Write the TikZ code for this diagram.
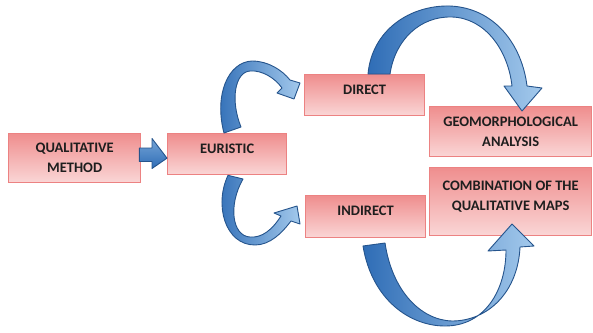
\documentclass[tikz,border=0pt]{standalone}
\usepackage{fontspec}
\setmainfont{Carlito}
\definecolor{boxtop}{HTML}{EF8E8E}
\definecolor{boxbot}{HTML}{FAD6D6}
\definecolor{boxline}{HTML}{EC8282}
\definecolor{arrdark}{HTML}{2F6DB6}
\definecolor{arrlight}{HTML}{A3C9EC}
\definecolor{arrline}{HTML}{25548C}
\definecolor{txt}{HTML}{1E1E1E}
\begin{document}
\begin{tikzpicture}[x=1pt,y=-1pt,
  box/.style={draw=boxline, line width=1.3pt, top color=boxtop, bottom color=boxbot,
    rectangle, anchor=north west, inner sep=0pt, text=txt,
    font=\fontsize{14.5}{20}\selectfont\bfseries, align=center},
  onel/.style={text height=10.2pt, text depth=12pt},
  arrbase/.style={draw=arrline, line width=0.9pt, line join=round},
  blarrow/.style={arrbase, left color=arrdark, right color=arrlight},
  strarrow/.style={arrbase, top color=arrlight!60!arrdark, bottom color=arrdark}
  ]
\useasboundingbox (0,0) rectangle (593,332);
% boxes
\node[box, minimum width=132pt, minimum height=49pt] (qm) at (8,133) {QUALITATIVE\\METHOD};
\node[box, onel, minimum width=119pt, minimum height=41pt] (eur) at (167,133) {EURISTIC};
\node[box, onel, minimum width=120pt, minimum height=41pt] (dir) at (304,74) {DIRECT};
\node[box, onel, text depth=13pt, minimum width=120pt, minimum height=42pt] (ind) at (305,195) {INDIRECT};
\node[box, minimum width=162pt, minimum height=50pt] (geo) at (429,106) {GEOMORPHOLOGICAL\\ANALYSIS};
\node[box, minimum width=162pt, minimum height=68pt] (comb) at (429,167) {COMBINATION OF THE\\QUALITATIVE MAPS\\[-8pt]\mbox{}};
% anchor coordinates for connectors
\coordinate (qmR) at ([yshift=-1pt]qm.east);
\coordinate (eurL) at ([yshift=-4pt]eur.west);
% straight block arrow qm -> eur
\path[strarrow]
  ([xshift=-2pt]qmR |- 0,148) -- (152,148) -- (152,138.5) -- (eurL) -- (152,168.5) -- (152,161.5) -- ([xshift=-2pt]qmR |- 0,161.5) -- cycle;
% euristic -> direct
\path[blarrow] (eur.north -| 224,0) .. controls (214,95) and (228,62) .. (252,61)
  .. controls (268,61) and (282,70) .. (290,80) -- (300,83) -- (294,99) -- (277,93) -- (282,88)
  .. controls (275,78) and (262,70) .. (250,71)
  .. controls (235,72) and (230,100) .. (241,127) -- cycle;
% direct -> geomorphological
\path[blarrow] (dir.north -| 368,0) .. controls (372,30) and (410,5) .. (450,6)
  .. controls (495,8) and (522,45) .. (527,86) -- (542,88) -- (522,111) -- (504,86) -- (512,86)
  .. controls (508,50) and (485,18) .. (452,17)
  .. controls (420,16) and (395,40) .. (390,74) -- cycle;
% euristic -> indirect
\path[blarrow] (eur.south -| 228,0) .. controls (214,205) and (225,245) .. (255,245)
  .. controls (270,245) and (282,233) .. (291,221) -- (300,224) -- (297,206) -- (274,213) -- (281,216)
  .. controls (272,230) and (262,238) .. (250,237)
  .. controls (232,236) and (228,205) .. (243,179) -- cycle;
% indirect -> combination
\path[blarrow] (363,246) .. controls (372,300) and (410,326) .. (445,326)
  .. controls (485,326) and (506,290) .. (506,250) -- (488,251) -- (512,224) -- (534,246) -- (520,247)
  .. controls (518,292) and (488,321) .. (452,321)
  .. controls (420,320) and (392,290) .. (385,243) -- cycle;
\end{tikzpicture}
\end{document}
